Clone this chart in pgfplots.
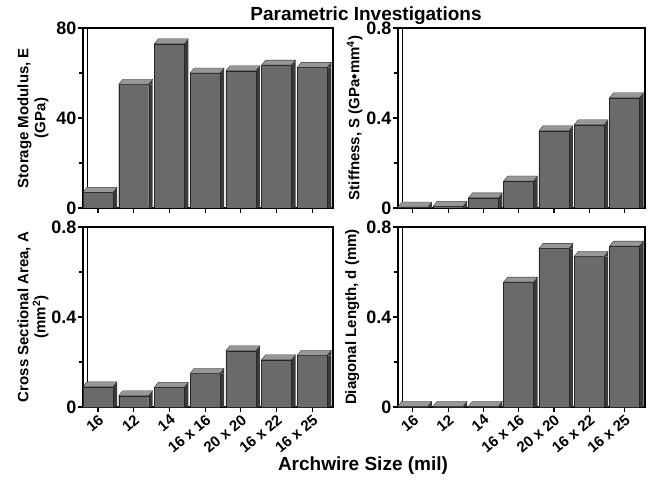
\documentclass[border=0pt]{standalone}
\usepackage{fontspec}
\setmainfont{Liberation Sans}
\usepackage{pgfplots}
\usepackage{pgfplotstable}
\pgfplotsset{compat=1.18}
\definecolor{barfront}{HTML}{6A6A6A}
\definecolor{bartop}{HTML}{979797}
\definecolor{barside}{HTML}{3A3A3A}

\pgfdeclareplotmark{cap}{%
  \pgfpathmoveto{\pgfqpoint{-15pt}{0pt}}%
  \pgfpathlineto{\pgfqpoint{15pt}{0pt}}%
  \pgfpathlineto{\pgfqpoint{19pt}{5pt}}%
  \pgfpathlineto{\pgfqpoint{-11pt}{5pt}}%
  \pgfpathclose
  \pgfsetfillcolor{bartop}\pgfusepath{fill,stroke}%
  \pgfpathmoveto{\pgfqpoint{15pt}{0pt}}%
  \pgfpathlineto{\pgfqpoint{19pt}{5pt}}%
  \pgfpathlineto{\pgfqpoint{19pt}{0pt}}%
  \pgfpathclose
  \pgfsetfillcolor{barside}\pgfusepath{fill}%
}

\pgfplotstableread{
x y
0 7
1 55
2 73
3 60
4 61
5 63.5
6 62.5
}\tabE
\pgfplotstableread{
x y
0 0.004
1 0.008
2 0.045
3 0.12
4 0.343
5 0.37
6 0.49
}\tabS
\pgfplotstableread{
x y
0 0.09
1 0.05
2 0.088
3 0.15
4 0.25
5 0.21
6 0.23
}\tabA
\pgfplotstableread{
x y
0 0.003
1 0.003
2 0.003
3 0.555
4 0.705
5 0.67
6 0.715
}\tabD

\pgfplotsset{
  panel/.style={
    scale only axis, height=180pt,
    xmin=-0.42, xmax=6.58, ymin=0,
    axis line style={line width=1.4pt},
    every tick/.style={line width=1.1pt, black},
    major tick length=5pt, minor tick length=4pt,
    tick align=outside, tick pos=left,
    xtick={0,...,6},
    /pgf/number format/assume math mode=true,
    tick label style={font=\fontsize{18}{18}\selectfont\bfseries},
    y tick label style={inner sep=1.5pt},
    x tick label style={rotate=40, anchor=north east, inner sep=1pt,
      font=\fontsize{15}{15}\selectfont\bfseries},
    ylabel style={font=\fontsize{15}{17}\selectfont\bfseries, align=center,
      at={(axis description cs:-0.2,0.5)}, anchor=center},
  },
  side/.style={ybar, bar width=4pt, bar shift=17pt, fill=barside, draw=none, forget plot},
  front/.style={ybar, bar width=30pt, bar shift=0pt, fill=barfront, draw=black!85, line width=0.4pt, forget plot},
  capst/.style={only marks, mark=cap, mark options={draw=black!85, line width=0.3pt}, forget plot},
}

\newcommand{\innerline}{\draw[line width=1.4pt] ([xshift=4.5pt]rel axis cs:0,0) -- ([xshift=4.5pt]rel axis cs:0,1);}

\begin{document}
\begin{tikzpicture}
\useasboundingbox (0,0) rectangle (653pt,480pt);

% top left
\begin{axis}[panel, width=250pt, at={(83pt,272pt)}, anchor=south west,
  ymax=80, ytick={0,40,80}, minor ytick={20,60}, xticklabels={},
  ylabel={Storage Modulus, E\\(GPa)}]
  \innerline
  \addplot[side] table {\tabE};
  \addplot[front] table {\tabE};
  \addplot[capst] table {\tabE};
\end{axis}

% top right
\begin{axis}[panel, width=247pt, at={(398pt,272pt)}, anchor=south west,
  ymax=0.8, ytick={0,0.4,0.8}, minor ytick={0.2,0.6}, xticklabels={},
  ylabel={Stiffness, S (GPa\textbullet mm\textsuperscript{4})},
  ylabel style={at={(axis description cs:-0.175,0.5)}}]
  \innerline
  \addplot[side] table {\tabS};
  \addplot[front] table {\tabS};
  \addplot[capst] table {\tabS};
\end{axis}

% bottom left
\begin{axis}[panel, width=250pt, at={(83pt,73pt)}, anchor=south west,
  ymax=0.8, ytick={0,0.4,0.8}, minor ytick={0.2,0.6},
  xticklabels={16,12,14,16 x 16,20 x 20,16 x 22,16 x 25},
  ylabel={Cross Sectional Area, A\\(mm\textsuperscript{2})}]
  \innerline
  \addplot[side] table {\tabA};
  \addplot[front] table {\tabA};
  \addplot[capst] table {\tabA};
\end{axis}

% bottom right
\begin{axis}[panel, width=247pt, at={(398pt,73pt)}, anchor=south west,
  ymax=0.8, ytick={0,0.4,0.8}, minor ytick={0.2,0.6},
  xticklabels={16,12,14,16 x 16,20 x 20,16 x 22,16 x 25},
  ylabel={Diagonal Length, d (mm)},
  ylabel style={at={(axis description cs:-0.185,0.5)}}]
  \innerline
  \addplot[side] table {\tabD};
  \addplot[front] table {\tabD};
  \addplot[capst] table {\tabD};
\end{axis}

\node[font=\fontsize{19}{19}\selectfont\bfseries] at (366pt,464pt) {Parametric Investigations};
\node[font=\fontsize{19}{19}\selectfont\bfseries] at (363pt,14pt) {Archwire Size (mil)};
\end{tikzpicture}
\end{document}
